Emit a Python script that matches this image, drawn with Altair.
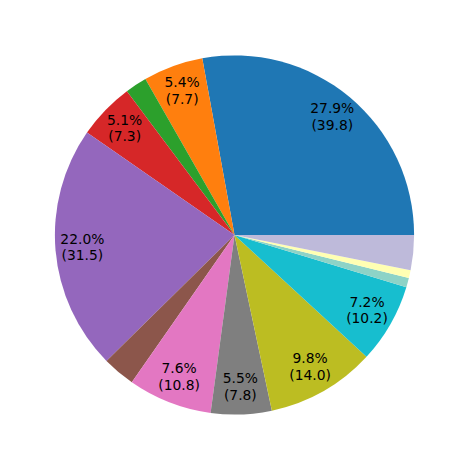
import math
import altair as alt
import pandas as pd

categories = ["A", "B", "C", "D", "E", "F", "G", "H", "I", "J", "K", "L", "M"]
values = [39.8, 7.7, 2.8, 7.3, 31.46, 4.2, 10.8, 7.8, 14.0, 10.23, 1.2, 1.0, 4.5]
colors = ["#1f77b4", "#ff7f0e", "#2ca02c", "#d62728", "#9467bd", "#8c564b",
          "#e377c2", "#7f7f7f", "#bcbd22", "#17becf", "#8dd3c7", "#ffffb3", "#bebada"]

df = pd.DataFrame({"cat": categories, "value": values, "idx": list(range(len(values)))})

theta_scale = alt.Scale(range=[math.pi / 2 + 2 * math.pi, math.pi / 2])

base = alt.Chart(df).transform_joinaggregate(
    total="sum(value)"
).transform_calculate(
    pct="datum.value / datum.total",
    label="datum.value / datum.total >= 0.05 ? format(datum.value / datum.total, '.1%') + '\\n(' + format(datum.value, '.1f') + ')' : ''"
).encode(
    theta=alt.Theta("value:Q", stack=True, scale=theta_scale),
    order=alt.Order("idx:Q"),
)

arcs = base.mark_arc(radius=180, strokeWidth=0).encode(
    color=alt.Color("cat:N", scale=alt.Scale(domain=categories, range=colors), legend=None)
)

labels = base.mark_text(
    radius=153, fontSize=13.9, font="DejaVu Sans", color="black",
    lineBreak="\n", lineHeight=16.7, align="center", baseline="middle", dy=-8.35
).encode(text="label:N")

chart = alt.layer(arcs, labels).properties(
    width=454, height=454, padding=0, autosize=alt.AutoSizeParams(type="none")
).configure_view(stroke=None)

chart.save("out.html", embed_options={"renderer": "svg", "actions": False})
